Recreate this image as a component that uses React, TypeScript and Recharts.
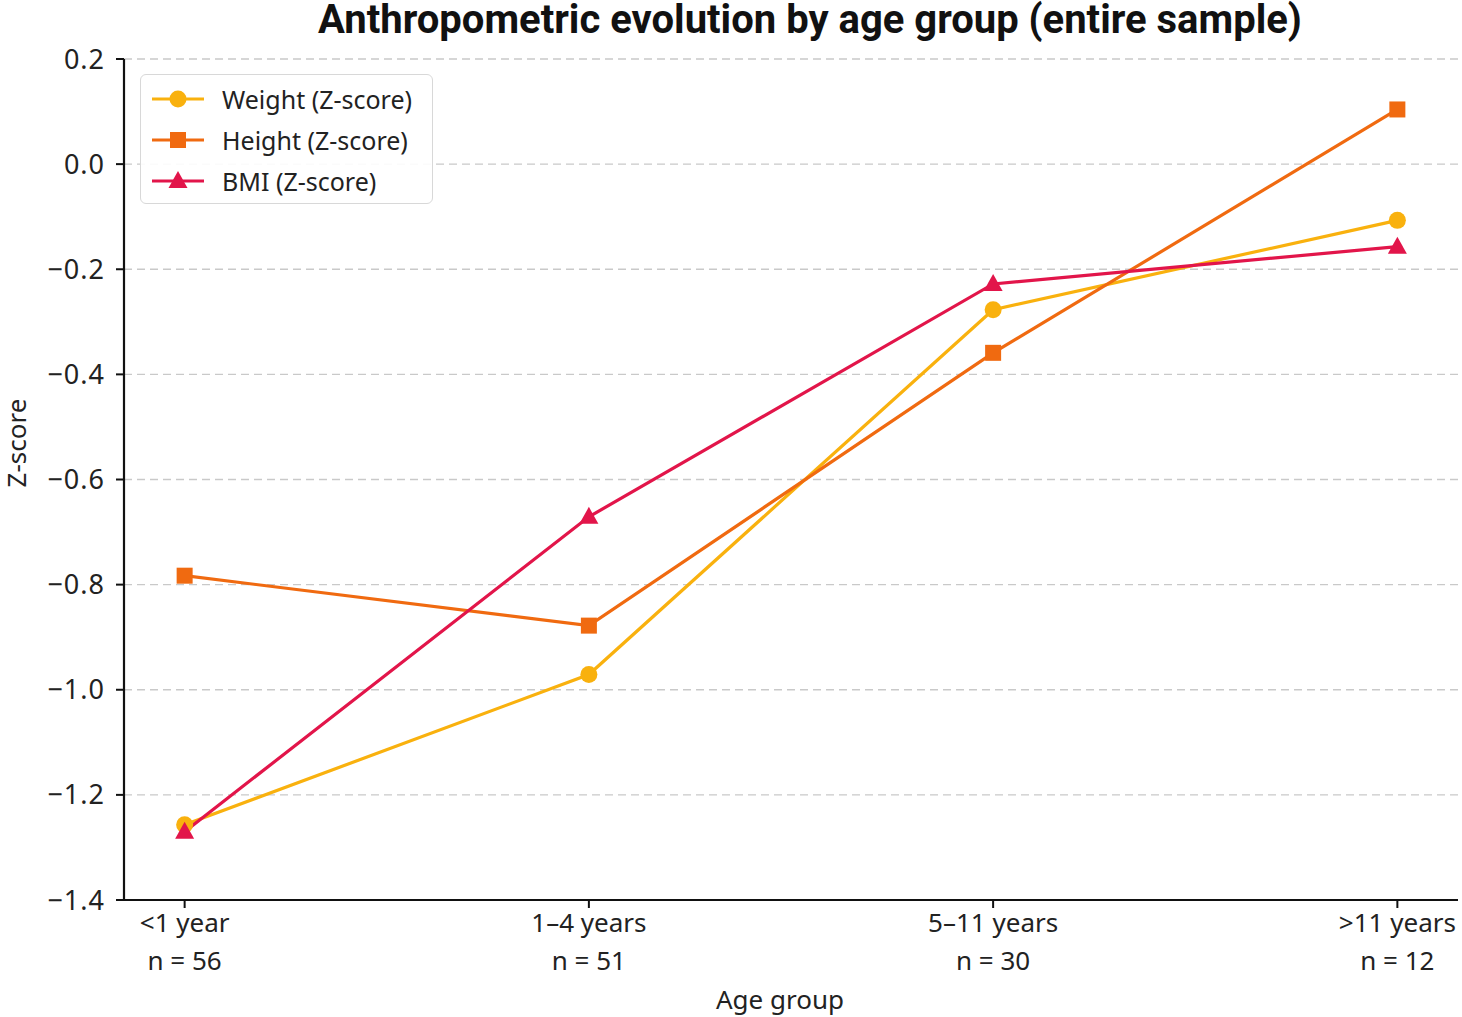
import React from "react";
import { LineChart, Line, XAxis, YAxis, CartesianGrid } from "recharts";

const categories = ["<1 year", "1–4 years", "5–11 years", ">11 years"];
const sampleSizes = [56, 51, 30, 12];
const weightZ = [-1.257, -0.971, -0.277, -0.107];
const heightZ = [-0.783, -0.878, -0.359, 0.104];
const bmiZ = [-1.27, -0.671, -0.228, -0.157];
const yTicks = [0.2, 0.0, -0.2, -0.4, -0.6, -0.8, -1.0, -1.2, -1.4];

const COLORS = { weight: "#F9B10E", height: "#F06A10", bmi: "#E2154A" };
const FONT = "'Noto Sans', 'Open Sans', sans-serif";

const data = categories.map((c, i) => ({
  x: i,
  category: c,
  weight: weightZ[i],
  height: heightZ[i],
  bmi: bmiZ[i],
}));

const series = [
  { key: "weight", name: "Weight (Z-score)", color: COLORS.weight, shape: "circle" },
  { key: "height", name: "Height (Z-score)", color: COLORS.height, shape: "square" },
  { key: "bmi", name: "BMI (Z-score)", color: COLORS.bmi, shape: "triangle" },
];

const Marker = ({ cx, cy, color, shape }: any) => {
  if (cx == null || cy == null) return null;
  if (shape === "square") return <rect x={cx - 8} y={cy - 8} width={16} height={16} fill={color} />;
  if (shape === "triangle")
    return <polygon points={`${cx},${cy - 10} ${cx + 9.5},${cy + 7} ${cx - 9.5},${cy + 7}`} fill={color} />;
  return <circle cx={cx} cy={cy} r={8.5} fill={color} />;
};

const XTick = ({ x, y, payload }: any) => {
  const i = payload.value;
  return (
    <g transform={`translate(${x},${y})`}>
      <text textAnchor="middle" fontSize={26} fill="#222" fontFamily={FONT}>
        <tspan x={0} dy={22}>{categories[i]}</tspan>
        <tspan x={0} dy={38}>{`n = ${sampleSizes[i]}`}</tspan>
      </text>
    </g>
  );
};

const LegendBox = () => (
  <div style={{
    position: "absolute", left: 140, top: 74, width: 293, height: 130,
    border: "1.5px solid #d8d8d8", borderRadius: 6, background: "rgba(255,255,255,0.9)",
    boxSizing: "border-box", fontFamily: FONT, fontSize: 25, color: "#222",
  }}>
    {series.map((s, i) => (
      <div key={s.key} style={{ position: "absolute", left: 10, top: 7 + i * 41, height: 34, display: "flex", alignItems: "center" }}>
        <svg width={56} height={34}>
          <line x1={1} y1={17} x2={53} y2={17} stroke={s.color} strokeWidth={3} />
          <Marker cx={27} cy={17} color={s.color} shape={s.shape} />
        </svg>
        <span style={{ marginLeft: 15 }}>{s.name}</span>
      </div>
    ))}
  </div>
);

export default function App() {
  return (
    <div style={{ position: "absolute", left: 0, top: 0, width: 1462, height: 1017, background: "#fff", overflow: "hidden" }}>
      <LineChart
        width={1462}
        height={1017}
        data={data}
        margin={{ top: 59, right: 4, bottom: 7, left: 0 }}
      >
        <CartesianGrid vertical={false} stroke="#c9c9c9" strokeDasharray="8 5" strokeWidth={1.3} />
        <XAxis
          dataKey="x"
          type="number"
          domain={[-0.15, 3.15]}
          ticks={[0, 1, 2, 3]}
          height={110}
          tick={<XTick />}
          tickSize={8}
          axisLine={{ stroke: "#111", strokeWidth: 2.2 }}
          tickLine={{ stroke: "#111", strokeWidth: 2 }}
        />
        <YAxis
          type="number"
          domain={[-1.4, 0.2]}
          ticks={yTicks}
          width={124}
          tickSize={8}
          tickMargin={11}
          tickFormatter={(v: number) => v.toFixed(1).replace("-", "−")}
          tick={{ fill: "#222", fontSize: 27, fontFamily: FONT, letterSpacing: 1 }}
          axisLine={{ stroke: "#111", strokeWidth: 2.2 }}
          tickLine={{ stroke: "#111", strokeWidth: 2 }}
          interval={0}
        />
        {series.map((s) => (
          <Line
            key={s.key}
            dataKey={s.key}
            name={s.name}
            stroke={s.color}
            strokeWidth={3.2}
            isAnimationActive={false}
            dot={(p: any) => <Marker key={`${s.key}-${p.index}`} cx={p.cx} cy={p.cy} color={s.color} shape={s.shape} />}
            activeDot={false}
          />
        ))}
      </LineChart>
      <LegendBox />
      <svg width={1462} height={1017} style={{ position: "absolute", left: 0, top: 0, pointerEvents: "none" }}>
        <text x={810} y={33} textAnchor="middle" fontFamily="Roboto, Inter, sans-serif" fontWeight={700} fontSize={40} fill="#111">
          Anthropometric evolution by age group (entire sample)
        </text>
        <text transform="translate(26,443) rotate(-90)" textAnchor="middle" fontFamily={FONT} fontSize={26} fill="#222">
          Z-score
        </text>
        <text x={780} y={1009} textAnchor="middle" fontFamily={FONT} fontSize={26} fill="#222">
          Age group
        </text>
      </svg>
    </div>
  );
}
